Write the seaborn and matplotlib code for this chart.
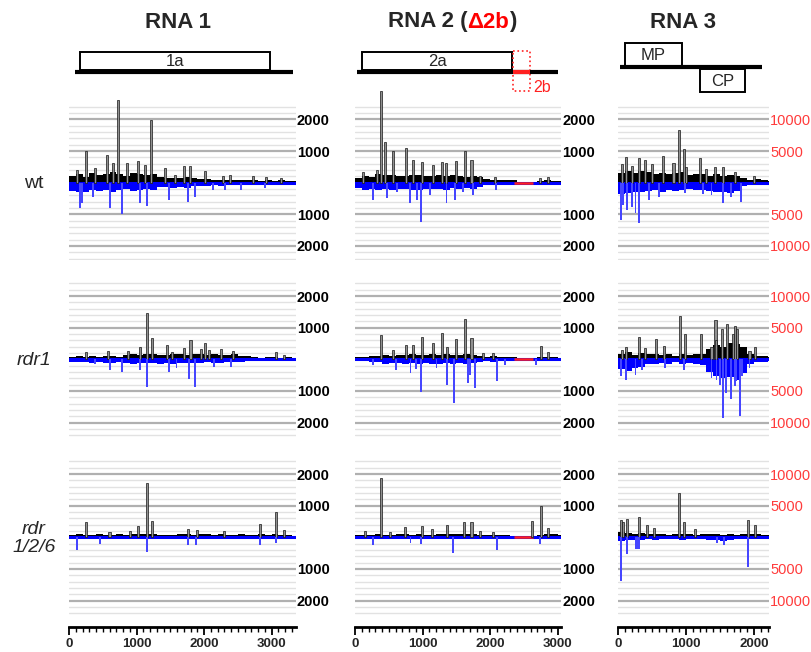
import matplotlib
matplotlib.use('Agg')
import matplotlib.pyplot as plt
import seaborn as sns
from matplotlib.ticker import MultipleLocator
from matplotlib.patches import Rectangle

sns.set_theme(style='white')
plt.rcParams['font.family'] = ['Liberation Sans', 'DejaVu Sans']

# genome segments (nt) and sample rows
rna_lengths = [3357, 3050, 2216]
rna_xticks = [[0, 1000, 2000, 3000], [0, 1000, 2000, 3000], [0, 1000, 2000]]
row_names = ['wt', 'rdr1', 'rdr\n1/2/6']
row_italic = [False, True, True]
body_step = 100              # nt per bin of the low background counts
deleted_2b = [2350, 2640]    # 2b region removed from RNA 2

# ---------- wt ----------
wt_rna1_plus_body = [220, 260, 180, 300, 240, 280, 330, 260, 220, 310, 270, 250, 290, 180, 150, 160, 140,
                     170, 150, 120, 110, 90, 100, 80, 90, 100, 80, 70, 60, 80, 60, 70, 50, 40]
wt_rna1_minus_body = [250, 280, 300, 220, 260, 240, 280, 230, 200, 260, 240, 210, 230, 150, 140, 160, 150,
                      170, 120, 100, 90, 80, 90, 70, 80, 60, 70, 60, 50, 60, 50, 40, 50, 30]
wt_rna1_plus_spikes = [(113, 400), (246, 1000), (385, 450), (557, 870), (655, 620), (730, 2600), (853, 610),
                       (1025, 680), (1124, 560), (1213, 1980), (1420, 480), (1568, 250), (1706, 525),
                       (1790, 525), (2011, 380), (2283, 200), (2381, 240), (2726, 210), (2923, 170), (3145, 140)]
wt_rna1_minus_spikes = [(163, 810), (187, 650), (360, 440), (606, 810), (790, 990), (1050, 650), (1160, 735),
                        (1480, 545), (1765, 600), (1873, 440), (2135, 230), (2307, 230), (2554, 230), (2900, 180)]

wt_rna2_plus_body = [150, 200, 180, 260, 230, 240, 220, 200, 250, 230, 210, 220, 240, 200, 230, 210, 190,
                     220, 180, 110, 100, 90, 100, 80, 0, 0, 20, 60, 70, 60, 50]
wt_rna2_minus_body = [180, 220, 200, 240, 210, 230, 190, 200, 220, 240, 210, 200, 190, 220, 180, 200, 170,
                      190, 150, 80, 70, 60, 70, 50, 0, 0, 10, 50, 60, 40, 30]
wt_rna2_plus_spikes = [(120, 350), (320, 400), (380, 2900), (444, 1290), (567, 1000), (750, 1110), (863, 715),
                       (986, 660), (1159, 555), (1282, 660), (1346, 610), (1494, 680), (1627, 1000),
                       (1726, 715), (1849, 210), (2070, 170), (2736, 140), (2860, 170)]
wt_rna2_minus_spikes = [(271, 545), (468, 495), (620, 300), (813, 650), (922, 545), (976, 1230), (1109, 390),
                        (1356, 650), (1479, 545), (1600, 300), (1750, 390), (2095, 230)]

wt_rna3_plus_body = [1500, 1900, 1600, 1800, 1700, 1400, 1600, 1300, 1500, 1700, 1200, 1400, 1300, 1100,
                     1300, 1000, 1200, 1100, 700, 500, 600, 400, 300]
wt_rna3_minus_body = [1800, 1600, 1400, 1500, 1300, 1200, 1400, 1100, 1300, 1200, 1000, 1100, 1200, 1300,
                      1500, 1400, 1600, 1300, 600, 400, 300, 200, 200]
wt_rna3_plus_spikes = [(60, 3000), (112, 4110), (200, 2600), (306, 3850), (403, 3580), (500, 2900), (661, 4270),
                       (816, 3060), (904, 8330), (977, 5270), (1000, 2500), (1205, 3850), (1300, 2200),
                       (1424, 2530), (1545, 2420), (1715, 1740), (2007, 1050)]
wt_rna3_minus_spikes = [(39, 5900), (80, 3500), (136, 4320), (209, 3790), (258, 4850), (306, 6430), (452, 2740),
                        (600, 2200), (987, 1690), (1250, 1800), (1375, 1950), (1545, 3270), (1667, 2210),
                        (1803, 3000)]

# ---------- rdr1 ----------
rdr1_rna1_plus_body = [60, 90, 70, 100, 80, 90, 110, 80, 140, 160, 130, 170, 180, 150, 140, 160, 170, 150,
                       180, 160, 140, 170, 150, 130, 160, 120, 90, 60, 50, 60, 70, 50, 60, 40]
rdr1_rna1_minus_body = [80, 100, 90, 120, 100, 110, 130, 100, 120, 140, 110, 130, 120, 150, 130, 140, 120,
                        130, 110, 120, 100, 130, 110, 100, 90, 80, 60, 50, 40, 50, 40, 30, 40, 30]
rdr1_rna1_plus_spikes = [(251, 240), (582, 270), (878, 270), (1050, 380), (1159, 1450), (1223, 660),
                         (1445, 450), (1530, 240), (1700, 350), (1800, 610), (1950, 330), (2011, 500),
                         (2080, 300), (2258, 325), (2430, 260), (3071, 240), (3180, 140)]
rdr1_rna1_minus_spikes = [(380, 150), (606, 340), (789, 390), (1050, 340), (1159, 880), (1484, 390),
                          (1592, 280), (1775, 630), (1873, 880), (2144, 250), (2406, 230)]

rdr1_rna2_plus_body = [60, 70, 90, 120, 140, 110, 150, 130, 160, 140, 150, 170, 140, 160, 150, 130, 170,
                       140, 110, 80, 90, 70, 80, 60, 0, 0, 10, 60, 70, 80, 50]
rdr1_rna2_minus_body = [50, 60, 80, 100, 140, 120, 130, 150, 120, 160, 130, 140, 150, 120, 140, 130, 150,
                        120, 100, 60, 70, 50, 60, 40, 0, 0, 10, 40, 50, 40, 30]
rdr1_rna2_plus_spikes = [(380, 770), (567, 295), (750, 450), (863, 450), (996, 715), (1159, 505), (1282, 840),
                         (1356, 380), (1494, 630), (1627, 1260), (1726, 680), (1898, 210), (2046, 210),
                         (2751, 420), (2860, 240)]
rdr1_rna2_minus_spikes = [(271, 180), (606, 340), (823, 440), (900, 300), (976, 1020), (1208, 280),
                          (1366, 810), (1464, 1390), (1676, 760), (1710, 500), (1775, 915), (2110, 700),
                          (2228, 180), (2687, 180)]

rdr1_rna3_plus_body = [900, 1100, 700, 1000, 800, 900, 700, 800, 600, 900, 700, 800, 900, 1600, 2200, 2000,
                       2600, 2400, 1900, 800, 600, 500, 400]
rdr1_rna3_minus_body = [1600, 1800, 1400, 1200, 800, 700, 600, 700, 500, 800, 600, 700, 900, 2000, 2600,
                        3000, 2800, 3200, 2200, 700, 500, 400, 300]
rdr1_rna3_plus_spikes = [(60, 1500), (122, 1870), (306, 3530), (403, 1720), (559, 3270), (671, 2080),
                         (914, 6900), (987, 4050), (1215, 4050), (1375, 1980), (1434, 6240), (1448, 3020),
                         (1531, 4830), (1604, 5510), (1691, 4050), (1715, 5200), (1754, 4830), (1934, 1300),
                         (2017, 1980)]
rdr1_rna3_minus_spikes = [(39, 2700), (122, 3220), (258, 2440), (355, 1660), (695, 1400), (977, 1660),
                          (1375, 2960), (1448, 3220), (1500, 4000), (1545, 9200), (1594, 5300), (1657, 6340),
                          (1715, 4260), (1740, 3500), (1789, 8940), (1823, 2700), (1934, 1400)]

# ---------- rdr1/2/6 ----------
rdr126_rna1_plus_body = [60, 90, 70, 80, 100, 80, 70, 90, 80, 100, 90, 110, 100, 70, 60, 80, 90, 100, 80,
                         90, 100, 80, 90, 70, 80, 90, 80, 70, 90, 80, 100, 70, 60, 50]
rdr126_rna1_minus_body = [60, 50, 40, 50, 60, 40, 50, 40, 50, 60, 50, 60, 50, 40, 50, 40, 50, 60, 50, 40,
                          50, 40, 50, 40, 50, 40, 60, 50, 40, 50, 40, 30, 40, 30]
rdr126_rna1_plus_spikes = [(251, 490), (600, 180), (900, 200), (1015, 370), (1159, 1730), (1223, 525),
                           (1765, 250), (1900, 220), (2300, 200), (2825, 420), (3071, 810), (3180, 230)]
rdr126_rna1_minus_spikes = [(113, 400), (458, 220), (1159, 450), (1765, 240), (1888, 240), (2825, 240),
                            (3061, 190)]

rdr126_rna2_plus_body = [70, 80, 60, 90, 70, 80, 90, 100, 80, 90, 70, 80, 90, 100, 110, 90, 100, 110, 80,
                         70, 80, 60, 70, 50, 0, 0, 10, 80, 90, 100, 60]
rdr126_rna2_minus_body = [40, 50, 40, 60, 50, 40, 50, 60, 40, 50, 40, 50, 40, 60, 50, 40, 50, 40, 30, 40,
                          30, 40, 30, 30, 0, 0, 0, 40, 50, 40, 30]
rdr126_rna2_plus_spikes = [(150, 200), (380, 1860), (520, 180), (740, 340), (986, 360), (1134, 260),
                           (1356, 390), (1612, 490), (1726, 490), (1850, 200), (2050, 170), (2628, 515),
                           (2761, 990), (2860, 280)]
rdr126_rna2_minus_spikes = [(271, 240), (823, 190), (976, 220), (1454, 500), (2105, 400), (2736, 220)]

rdr126_rna3_plus_body = [800, 700, 600, 700, 500, 600, 500, 400, 500, 600, 500, 400, 500, 600, 500, 400,
                         500, 400, 500, 600, 500, 400, 300]
rdr126_rna3_minus_body = [600, 500, 400, 500, 300, 400, 300, 200, 300, 400, 300, 200, 300, 400, 500, 600,
                          400, 300, 200, 300, 200, 200, 200]
rdr126_rna3_plus_spikes = [(39, 2730), (80, 2400), (136, 2880), (306, 3130), (428, 2020), (525, 1520),
                           (904, 7070), (977, 2370), (1132, 1260), (1910, 2780), (2017, 2020)]
rdr126_rna3_minus_spikes = [(39, 6970), (136, 2680), (258, 1820), (282, 1800), (306, 1820), (1450, 900),
                            (1560, 1160), (1910, 4700)]

panels = [
    [(wt_rna1_plus_body, wt_rna1_minus_body, wt_rna1_plus_spikes, wt_rna1_minus_spikes),
     (wt_rna2_plus_body, wt_rna2_minus_body, wt_rna2_plus_spikes, wt_rna2_minus_spikes),
     (wt_rna3_plus_body, wt_rna3_minus_body, wt_rna3_plus_spikes, wt_rna3_minus_spikes)],
    [(rdr1_rna1_plus_body, rdr1_rna1_minus_body, rdr1_rna1_plus_spikes, rdr1_rna1_minus_spikes),
     (rdr1_rna2_plus_body, rdr1_rna2_minus_body, rdr1_rna2_plus_spikes, rdr1_rna2_minus_spikes),
     (rdr1_rna3_plus_body, rdr1_rna3_minus_body, rdr1_rna3_plus_spikes, rdr1_rna3_minus_spikes)],
    [(rdr126_rna1_plus_body, rdr126_rna1_minus_body, rdr126_rna1_plus_spikes, rdr126_rna1_minus_spikes),
     (rdr126_rna2_plus_body, rdr126_rna2_minus_body, rdr126_rna2_plus_spikes, rdr126_rna2_minus_spikes),
     (rdr126_rna3_plus_body, rdr126_rna3_minus_body, rdr126_rna3_plus_spikes, rdr126_rna3_minus_spikes)],
]

# ---------- layout (pixels) ----------
W, H = 811, 652
fig = plt.figure(figsize=(W / 100, H / 100), dpi=100)


def add_ax(x, y_top, w, h):
    return fig.add_axes([x / W, 1 - (y_top + h) / H, w / W, h / H])


col_x = [69, 355, 618]
px_per_nt = [0.0675, 0.0675, 0.068]
col_w = [L * p for L, p in zip(rna_lengths, px_per_nt)]
row_base = [182.7, 359.3, 537.3]
half_h = 77.5

# y scale: RNA1/2 in counts up to 2400, RNA3 up to 12000
y_lim = [2450, 2450, 12250]
grid_step = [200, 200, 1000]
label_vals = [[1000, 2000], [1000, 2000], [5000, 10000]]
label_color = ['black', 'black', '#ff3b3b']
label_weight = ['bold', 'bold', 'normal']

for r in range(3):
    for c in range(3):
        plus_body, minus_body, plus_sp, minus_sp = panels[r][c]
        ax = add_ax(col_x[c], row_base[r] - half_h, col_w[c], 2 * half_h)
        ax.set_xlim(0, rna_lengths[c])
        ax.set_ylim(-y_lim[c], y_lim[c])

        g = grid_step[c]
        n = int((y_lim[c] - g / 4) // g)
        for v in range(-n * g, n * g + 1, g):
            if v == 0:
                continue
            if abs(v) in label_vals[c]:
                ax.axhline(v, color='#b0b0b0', lw=1.6, zorder=0)
            else:
                ax.axhline(v, color='#e2e2e2', lw=1.0, zorder=0)

        edges = [i * body_step for i in range(len(plus_body))]
        ax.bar(edges, plus_body, width=body_step, align='edge', color='black', lw=0, zorder=2)
        ax.bar(edges, [-v for v in minus_body], width=body_step, align='edge', color='#0000ff', lw=0, zorder=2)

        bars = ax.bar([p for p, _ in plus_sp], [h for _, h in plus_sp], width=30, color='#909090',
                      edgecolor='#151515', linewidth=0.5, zorder=3)
        for b in bars:
            b.set_clip_on(False)
        ax.bar([p for p, _ in minus_sp], [-h for _, h in minus_sp], width=28, color='#4646ff',
               lw=0, zorder=3)

        ax.axhline(0, color='#0000ff', lw=2.2, zorder=2.5)
        if c == 1:
            ax.plot(deleted_2b, [0, 0], color='#ff2020', lw=1.8, zorder=2.6, solid_capstyle='butt')

        ax.yaxis.tick_right()
        ticks = [-label_vals[c][1], -label_vals[c][0], label_vals[c][0], label_vals[c][1]]
        ax.set_yticks(ticks)
        ax.set_yticklabels([str(abs(t)) for t in ticks], color=label_color[c],
                           fontweight=label_weight[c], fontsize=10.5)
        ax.tick_params(axis='y', length=0, pad=1, right=True, left=False)

        if r < 2:
            sns.despine(ax=ax, left=True, right=True, top=True, bottom=True)
            ax.tick_params(axis='x', bottom=False, labelbottom=False)
        else:
            sns.despine(ax=ax, left=True, right=True, top=True, bottom=False, offset={'bottom': 9})
            ax.spines['bottom'].set_color('black')
            ax.spines['bottom'].set_linewidth(2)
            ax.set_xticks(rna_xticks[c])
            ax.set_xticklabels([str(t) for t in rna_xticks[c]], fontweight='bold', fontsize=9.5)
            ax.xaxis.set_minor_locator(MultipleLocator(100))
            ax.tick_params(axis='x', which='major', bottom=True, direction='out', length=6, width=1.3,
                           color='black', pad=2)
            ax.tick_params(axis='x', which='minor', bottom=True, direction='out', length=3.5, width=1,
                           color='black')

# ---------- genome maps on top (y in pixels from the top) ----------
maps = []
for c in range(3):
    ax = add_ax(col_x[c], 35, col_w[c], 65)
    ax.set_xlim(0, rna_lengths[c])
    ax.set_ylim(100, 35)
    ax.axis('off')
    maps.append(ax)


def gene_box(ax, x0, x1, y0, y1, label):
    ax.add_patch(Rectangle((x0, y0), x1 - x0, y1 - y0, fill=False, lw=1.4, edgecolor='black', clip_on=False))
    ax.text((x0 + x1) / 2, (y0 + y1) / 2 + 0.5, label, ha='center', va='center', fontsize=12)


maps[0].plot([89, 3318], [72, 72], color='black', lw=3, solid_capstyle='butt', clip_on=False)
gene_box(maps[0], 163, 2978, 52, 70, '1a')

maps[1].plot([30, 3007], [72, 72], color='black', lw=3, solid_capstyle='butt', clip_on=False)
gene_box(maps[1], 104, 2326, 52, 70, '2a')
maps[1].add_patch(Rectangle((2340, 51), 250, 40, fill=False, lw=1.2, ls=':', edgecolor='#ff2020', clip_on=False))
maps[1].plot([2340, 2590], [72, 72], color='#ff2020', lw=3, solid_capstyle='butt', clip_on=False)
maps[1].text(2640, 87, '2b', color='#ff2020', fontsize=11.5, ha='left', va='center', clip_on=False)

maps[2].plot([29, 2118], [67, 67], color='black', lw=3, solid_capstyle='butt', clip_on=False)
gene_box(maps[2], 103, 941, 43, 66, 'MP')
gene_box(maps[2], 1206, 1868, 69, 92, 'CP')

# ---------- titles and row labels ----------
title_kw = dict(fontsize=16, fontweight='bold', va='center')
fig.text(178 / W, 1 - 22 / H, 'RNA 1', ha='center', **title_kw)
fig.text(683 / W, 1 - 22 / H, 'RNA 3', ha='center', **title_kw)
t1 = fig.text(388 / W, 1 - 22 / H, 'RNA 2 (', ha='left', **title_kw)
t2 = maps[1].annotate('\u03942b', xy=(1, 0.5), xycoords=t1, ha='left', color='#ff0000',
                      annotation_clip=False, **title_kw)
maps[1].annotate(')', xy=(1, 0.5), xycoords=t2, ha='left', annotation_clip=False, **title_kw)

for r in range(3):
    fig.text(34 / W, 1 - (row_base[r] + 1) / H, row_names[r], ha='center', va='center', fontsize=14,
             fontstyle='italic' if row_italic[r] else 'normal', linespacing=1.1)

fig.savefig('out.png', dpi=100)
